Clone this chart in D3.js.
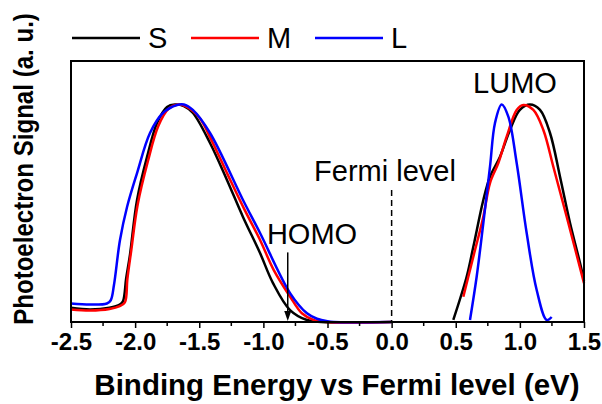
<!DOCTYPE html>
<html lang="en">
<head>
	<meta charset="UTF-8">
	<title>Photoelectron</title>
	<script src="https://cdnjs.cloudflare.com/ajax/libs/d3/7.8.5/d3.min.js"></script>
	<style>
		body{
			margin:0;
			background:white;
		}
		svg{
			font-family: Arial, "Liberation Sans", sans-serif;
		}
		.ticklab{
			font-weight:bold;
			font-size:24px;
		}
		.title{
			font-weight:bold;
			font-size:29.5px;
		}
		.note{
			font-size:29px;
		}
	</style>
</head>
<body>
	<svg width="602" height="404"></svg>
	<script>
		// binding energy (eV), normalised signal
		var homoS = [[-2.5,0.065],[-2.35,0.058],[-2.2,0.066],[-2.12,0.08],[-2.095,0.095],[-2.07,0.2],[-2.04,0.31],[-1.985,0.561],[-1.907,0.759],[-1.829,0.915],[-1.751,0.989],[-1.69,1.0],[-1.62,0.993],[-1.549,0.961],[-1.416,0.823],[-1.284,0.653],[-1.159,0.483],[-1.026,0.317],[-0.925,0.179],[-0.792,0.055],[-0.66,0.009],[-0.55,0],[0,0]];
		var homoM = [[-2.5,0.058],[-2.35,0.053],[-2.2,0.06],[-2.12,0.073],[-2.08,0.09],[-2.06,0.2],[-2.03,0.33],[-1.98,0.54],[-1.9,0.74],[-1.82,0.9],[-1.74,0.98],[-1.66,1.0],[-1.6,0.99],[-1.5,0.94],[-1.4,0.83],[-1.28,0.68],[-1.15,0.52],[-1.026,0.377],[-0.92,0.24],[-0.79,0.115],[-0.7,0.04],[-0.61,0.01],[-0.5,0],[0,0]];
		var homoL = [[-2.5,0.085],[-2.35,0.08],[-2.22,0.085],[-2.19,0.1],[-2.165,0.17],[-2.118,0.377],[-2.063,0.529],[-1.985,0.685],[-1.884,0.869],[-1.783,0.961],[-1.673,0.998],[-1.62,1.0],[-1.55,0.975],[-1.416,0.869],[-1.159,0.561],[-1.026,0.409],[-0.792,0.133],[-0.66,0.04],[-0.582,0.015],[-0.5,0.003],[-0.45,0],[0,0]];

		var lumoS = [[0.481,0.01],[0.585,0.208],[0.637,0.346],[0.715,0.561],[0.767,0.668],[0.845,0.76],[0.923,0.883],[1.0,0.975],[1.079,1.0],[1.157,0.975],[1.235,0.869],[1.313,0.668],[1.391,0.455],[1.469,0.271],[1.5,0.19]];
		var lumoM = [[0.559,0.116],[0.637,0.3],[0.715,0.484],[0.767,0.639],[0.832,0.731],[0.897,0.852],[0.975,0.975],[1.027,0.998],[1.105,0.975],[1.183,0.883],[1.261,0.714],[1.365,0.484],[1.5,0.179]];
		var lumoL = [[0.611,0.009],[0.663,0.208],[0.715,0.455],[0.767,0.714],[0.806,0.915],[0.858,1.0],[0.91,0.944],[0.975,0.731],[1.053,0.409],[1.131,0.147],[1.209,0.009],[1.248,0.023]];

		var seriesNames = ["S","M","L"];
		var seriesColors = ["#000000","#ff0000","#0000ff"];
		var xTicks = [-2.5,-2.0,-1.5,-1.0,-0.5,0.0,0.5,1.0,1.5];
		var xMinor = d3.range(-2.25,1.5,0.5);

		var fermiTop = 0.607;   // top of dashed line
		var homoArrow = [-0.81, 0.32];  // x, top of arrow

		var svg = d3.select("svg");
		var m = {l:71, t:61, r:18, b:82};
		var w = 602 - m.l - m.r,
			h = 404 - m.t - m.b;

		var x = d3.scaleLinear().domain([-2.5,1.5]).range([m.l, m.l + w]);
		var y = d3.scaleLinear().domain([0,1.2]).range([m.t + h, m.t]);

		var line = d3.line()
			.x(d=>x(d[0]))
			.y(d=>y(d[1]))
			.curve(d3.curveCatmullRom.alpha(0.5));

		var g = svg.append("g");

		var all = [[homoS,lumoS],[homoM,lumoM],[homoL,lumoL]];
		all.forEach((pair,i)=>{
			pair.forEach(arr=>{
				g.append("path")
					.attr("d", line(arr))
					.attr("fill","none")
					.attr("stroke", seriesColors[i])
					.attr("stroke-width",2.5);
			})
		})

		// fermi level
		svg.append("line")
			.attr("x1",x(0)).attr("x2",x(0))
			.attr("y1",y(fermiTop)).attr("y2",y(0))
			.attr("stroke","black")
			.attr("stroke-width",1.5)
			.attr("stroke-dasharray","6,4");

		// frame
		svg.append("rect")
			.attr("x",m.l).attr("y",m.t)
			.attr("width",w).attr("height",h)
			.attr("fill","none")
			.attr("stroke","black")
			.attr("stroke-width",2);

		// x axis
		var xa = svg.append("g")
			.attr("transform","translate(0,"+(m.t+h)+")")
			.call(d3.axisBottom(x).tickValues(xTicks).tickSize(6).tickFormat(d3.format(".1f")));
		xa.select(".domain").remove();
		xa.selectAll(".tick line").attr("stroke-width",1.5);
		xa.selectAll(".tick text")
			.attr("class","ticklab")
			.attr("font-family",null).attr("font-size",null)
			.attr("y",11)
			.attr("dy","0.71em")
			.text(d=>d3.format(".1f")(d).replace("−","-"));

		svg.append("g").selectAll("line")
			.data(xMinor).enter().append("line")
			.attr("x1",d=>x(d)).attr("x2",d=>x(d))
			.attr("y1",m.t+h).attr("y2",m.t+h+4)
			.attr("stroke","black")
			.attr("stroke-width",1.5);

		// titles
		svg.append("text")
			.attr("class","title")
			.attr("x",337).attr("y",395)
			.attr("text-anchor","middle")
			.text("Binding Energy vs Fermi level (eV)");

		svg.append("text")
			.attr("class","title")
			.attr("transform","translate(33,169) rotate(-90) scale(0.86,1)")
			.attr("text-anchor","middle")
			.style("font-size","28px")
			.text("Photoelectron Signal (a. u.)");

		// annotations
		svg.append("text").attr("class","note")
			.attr("x",385).attr("y",181).attr("text-anchor","middle")
			.text("Fermi level");
		svg.append("text").attr("class","note")
			.attr("x",312).attr("y",244).attr("text-anchor","middle")
			.text("HOMO");
		svg.append("text").attr("class","note")
			.attr("x",515).attr("y",93).attr("text-anchor","middle")
			.text("LUMO");

		var ax = x(homoArrow[0]);
		svg.append("line")
			.attr("x1",ax).attr("x2",ax)
			.attr("y1",y(homoArrow[1])).attr("y2",y(0)-8)
			.attr("stroke","black").attr("stroke-width",1.5);
		svg.append("path")
			.attr("d","M"+(ax-3.5)+","+(y(0)-11)+"L"+(ax+3.5)+","+(y(0)-11)+"L"+ax+","+(y(0)-1)+"Z")
			.attr("fill","black");

		// legend
		var lg = svg.append("g");
		var lx = [72,191,315];
		seriesNames.forEach((s,i)=>{
			lg.append("line")
				.attr("x1",lx[i]).attr("x2",lx[i]+68)
				.attr("y1",38).attr("y2",38)
				.attr("stroke",seriesColors[i])
				.attr("stroke-width",2.5);
			lg.append("text")
				.attr("class","note")
				.attr("x",lx[i]+76).attr("y",48)
				.attr("font-size","28px")
				.text(s);
		})
	</script>
</body>
</html>
